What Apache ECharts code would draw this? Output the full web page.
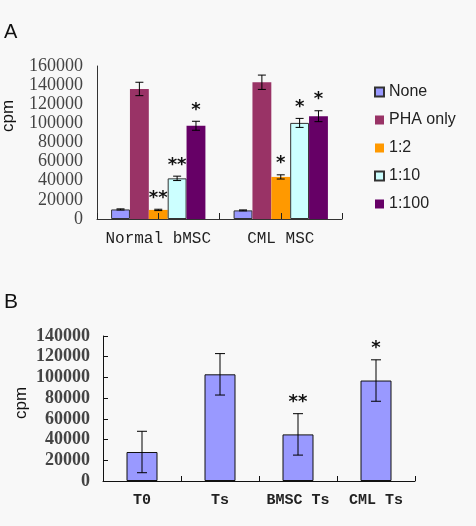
<!DOCTYPE html>
<html>
<head>
<meta charset="utf-8">
<script src="https://cdn.jsdelivr.net/npm/echarts@6/dist/echarts.min.js"></script>
<style>
html,body{margin:0;padding:0;background:#f8f8f8;}
#chart{width:476px;height:526px;}
</style>
</head>
<body>
<div id="chart"></div>
<script>
// ---- Panel A data ----
const catsA = ['Normal bMSC', 'CML MSC'];
const seriesNamesA = ['None', 'PHA only', '1:2', '1:10', '1:100'];
const noneA = [10000, 9000];
const phaA = [136000, 143000];
const r2A = [9500, 44000];
const r10A = [42500, 100500];
const r100A = [97500, 107500];
const noneErrA = [600, 500];
const phaErrA = [7000, 7500];
const r2ErrA = [700, 2200];
const r10ErrA = [2300, 4700];
const r100ErrA = [4700, 5700];
const noneStarA = ['', ''];
const phaStarA = ['', ''];
const r2StarA = ['**', '*'];
const r10StarA = ['**', '*'];
const r100StarA = ['*', '*'];
const ticksA = ['0', '20000', '40000', '60000', '80000', '100000', '120000', '140000', '160000'];

// ---- Panel B data ----
const catsB = ['T0', 'Ts', 'BMSC Ts', 'CML Ts'];
const valsB = [28000, 103000, 45000, 97000];
const errB = [20000, 20000, 20000, 20000];
const starsB = ['', '', '**', '*'];
const ticksB = ['0', '20000', '40000', '60000', '80000', '100000', '120000', '140000'];

const colorsA = ['#9999ff', '#993366', '#ff9900', '#ccffff', '#660066'];
const bordersA = [1, 0, 0, 1, 0];
const valuesA = [noneA, phaA, r2A, r10A, r100A];
const errsA = [noneErrA, phaErrA, r2ErrA, r10ErrA, r100ErrA];
const starsA = [noneStarA, phaStarA, r2StarA, r10StarA, r100StarA];

const GAP_A = 0.23;

const chart = echarts.init(document.getElementById('chart'), null, {renderer: 'canvas'});
const starLookup = {};

function errRender(nGroup, idx, gapFrac, capHalf, starFont) {
  return function (params, api) {
    const cat = api.value(0), val = api.value(1), err = api.value(2);
    const star = starLookup[params.seriesName] ? starLookup[params.seriesName][params.dataIndex] : '';
    const c = api.coord([cat, val]);
    const band = api.size([1, 0])[0];
    const bw = band * (1 - gapFrac) / nGroup;
    const x = c[0] + (idx - (nGroup - 1) / 2) * bw;
    const top = api.coord([cat, val + err])[1];
    const bot = api.coord([cat, val - err])[1];
    const st = {stroke: '#000', lineWidth: 1};
    const children = [
      {type: 'line', shape: {x1: x, y1: top, x2: x, y2: bot}, style: st},
      {type: 'line', shape: {x1: x - capHalf, y1: top, x2: x + capHalf, y2: top}, style: st},
      {type: 'line', shape: {x1: x - capHalf, y1: bot, x2: x + capHalf, y2: bot}, style: st}
    ];
    if (star) {
      children.push({type: 'text', style: {text: star, x: x, y: top - 2, align: 'center', verticalAlign: 'bottom',
        font: starFont, fill: '#111'}});
    }
    return {type: 'group', children: children};
  };
}

const series = [];
seriesNamesA.forEach((name, i) => {
  series.push({
    name: name, type: 'bar', xAxisIndex: 0, yAxisIndex: 0,
    data: valuesA[i], barGap: '0%', barCategoryGap: (GAP_A * 100) + '%',
    itemStyle: {color: colorsA[i], borderColor: bordersA[i] ? '#333' : colorsA[i], borderWidth: bordersA[i] ? 1 : 0},
    emphasis: {disabled: true}, z: 2
  });
});
seriesNamesA.forEach((name, i) => {
  starLookup['err_' + name] = starsA[i];
  series.push({
    name: 'err_' + name, type: 'custom', xAxisIndex: 0, yAxisIndex: 0,
    data: valuesA[i].map((v, k) => [k, v, errsA[i][k]]),
    renderItem: errRender(5, i, GAP_A, 4, 'bold 18px "DejaVu Sans"'), z: 5, silent: true
  });
});
series.push({
  name: 'B', type: 'bar', xAxisIndex: 2, yAxisIndex: 1, data: valsB, barWidth: 31,
  itemStyle: {color: '#9999ff', borderColor: '#111', borderWidth: 1}, emphasis: {disabled: true}, z: 2
});
starLookup['errB'] = starsB;
series.push({
  name: 'errB', type: 'custom', xAxisIndex: 2, yAxisIndex: 1,
  data: valsB.map((v, k) => [k, v, errB[k]]),
  renderItem: errRender(1, 0, 0, 5, 'bold 18px "DejaVu Sans"'), z: 5, silent: true
});

const option = {
  backgroundColor: '#f8f8f8',
  animation: false,
  legend: {
    data: seriesNamesA, orient: 'vertical', left: 369, top: 78,
    itemWidth: 9, itemHeight: 9, itemGap: 10, icon: 'rect',
    textStyle: {fontFamily: '"Liberation Sans", Arial', fontSize: 16, color: '#222', lineHeight: 18},
    selectedMode: false
  },
  graphic: [
    {type: 'text', left: 4, top: 22, style: {text: 'A', font: '20px "Liberation Sans"', fill: '#111'}},
    {type: 'text', left: 4, top: 292, style: {text: 'B', font: '21px "Liberation Sans"', fill: '#111'}},
    {type: 'text', x: 8, y: 116, rotation: Math.PI / 2, style: {text: 'cpm', font: '17px "Liberation Sans"', fill: '#111', align: 'center', verticalAlign: 'middle'}},
    {type: 'text', x: 21, y: 403, rotation: Math.PI / 2, style: {text: 'cpm', font: '17px "Liberation Sans"', fill: '#111', align: 'center', verticalAlign: 'middle'}}
  ],
  grid: [
    {left: 97, right: 134, top: 66, bottom: 307},
    {left: 103, right: 61, top: 336, bottom: 45}
  ],
  xAxis: [
    {type: 'category', gridIndex: 0, data: catsA,
      axisLine: {lineStyle: {color: '#333', width: 1}}, axisTick: {show: false},
      axisLabel: {interval: 0, fontFamily: '"Liberation Mono", monospace', fontSize: 16, color: '#222', margin: 12}},
    {type: 'category', gridIndex: 0, data: ['a', 'b', 'c', 'd'], position: 'bottom', z: 6,
      axisLine: {show: false}, axisLabel: {show: false},
      axisTick: {show: true, inside: true, length: 6, lineStyle: {color: '#222'}}},
    {type: 'category', gridIndex: 1, data: catsB,
      axisLine: {lineStyle: {color: '#111', width: 1}},
      axisTick: {show: true, inside: true, length: 5, lineStyle: {color: '#111'}},
      axisLabel: {interval: 0, fontFamily: '"Liberation Mono", monospace', fontSize: 15, fontWeight: 'bold', color: '#222', margin: 12}}
  ],
  yAxis: [
    {type: 'value', gridIndex: 0, min: 0, max: 160000, interval: 20000,
      axisLine: {show: true, lineStyle: {color: '#333'}}, axisTick: {show: false}, splitLine: {show: false},
      axisLabel: {fontFamily: '"Liberation Serif", serif', fontSize: 18, color: '#444', margin: 14,
        formatter: (v) => ticksA[Math.round(v / 20000)]}},
    {type: 'value', gridIndex: 1, min: 0, max: 140000, interval: 20000,
      axisLine: {show: true, lineStyle: {color: '#111'}},
      axisTick: {show: true, inside: true, length: 5, lineStyle: {color: '#111'}}, splitLine: {show: false},
      axisLabel: {fontFamily: '"Liberation Serif", serif', fontSize: 18, fontWeight: 'bold', color: '#444', margin: 13,
        formatter: (v) => ticksB[Math.round(v / 20000)]}}
  ],
  series: series
};
chart.setOption(option);
</script>
</body>
</html>
